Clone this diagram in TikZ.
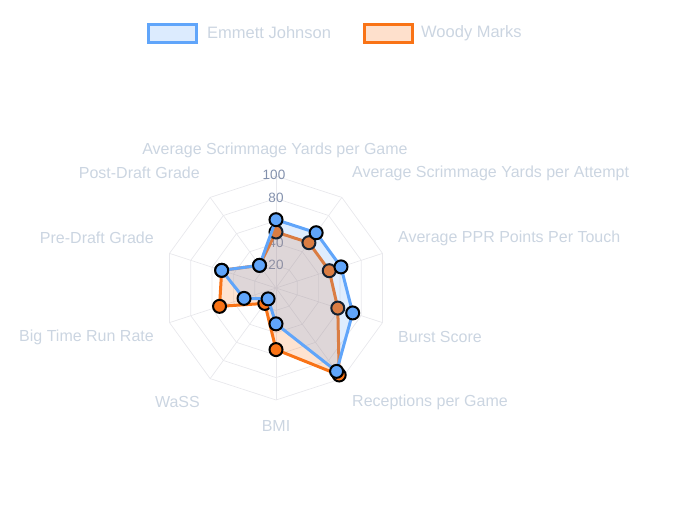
\documentclass[tikz,border=0pt]{standalone}
\usepackage{fontspec}
\setmainfont{Liberation Sans}
\usetikzlibrary{calc}
\begin{document}
\begin{tikzpicture}[x=1pt,y=-1pt,
  lab/.style={text=labc,font=\fontsize{16}{17}\selectfont,inner sep=0},
  leg/.style={text=labc,font=\fontsize{16.5}{17}\selectfont,inner sep=0},
  tick/.style={text=tickc,font=\fontsize{13.5}{14}\selectfont,inner sep=0},
  grid/.style={draw=gridc,line width=0.7pt},
  ptb/.style={circle,fill=bl,draw=black,line width=2pt,minimum size=13pt,inner sep=0},
  pto/.style={circle,fill=orc,draw=black,line width=2pt,minimum size=13pt,inner sep=0}]
\definecolor{labc}{HTML}{CBD5E1}
\definecolor{tickc}{HTML}{8290AC}
\definecolor{gridc}{HTML}{E8E8EC}
\definecolor{bl}{HTML}{60A5FA}
\definecolor{orc}{HTML}{F97316}
\useasboundingbox (0,0) rectangle (675,525);
\coordinate (c) at (276,288);
\def\R{112}
% grid
\foreach \k in {1,...,5}{
  \draw[grid] ($(c)+(-90:\k*\R/5)$) \foreach \i in {1,...,9}{ -- ($(c)+(-90+\i*36:\k*\R/5)$)} -- cycle;
}
\foreach \i in {0,...,9}{ \draw[grid] (c) -- ($(c)+(-90+\i*36:\R)$); }
% ticks
\node[tick] (t100) at (274,175) {100};
\node[tick] (t80) at (276,198) {80};
\node[tick] (t60) at (276,221) {60};
\node[tick] (t40) at (276,243) {40};
\node[tick] (t20) at (276,265) {20};
% data
\def\ov{{50,50,50,58,96,55,17,53,51,25}}
\def\bv{{61,61,61,72,92,32,12,30,51,25}}
\foreach \i in {0,...,9}{
  \pgfmathsetmacro\o{\ov[\i]*\R/100}
  \pgfmathsetmacro\b{\bv[\i]*\R/100}
  \coordinate (o\i) at ($(c)+(-90+\i*36:\o)$);
  \coordinate (b\i) at ($(c)+(-90+\i*36:\b)$);
}
\draw[orc,line width=3pt,fill=orc,fill opacity=0.2,line join=round] (o0)--(o1)--(o2)--(o3)--(o4)--(o5)--(o6)--(o7)--(o8)--(o9)--cycle;
\foreach \i in {0,...,9}{ \node[pto] (po\i) at (o\i) {}; }
\draw[bl,line width=3pt,fill=bl,fill opacity=0.2,line join=round] (b0)--(b1)--(b2)--(b3)--(b4)--(b5)--(b6)--(b7)--(b8)--(b9)--cycle;
\foreach \i in {0,...,9}{ \node[ptb] (pb\i) at (b\i) {}; }
% labels
\node[lab] (l0) at (275,150) {Average Scrimmage Yards per Game};
\node[lab,anchor=west] (l1) at (352,173) {Average Scrimmage Yards per Attempt};
\node[lab,anchor=west] (l2) at (398,238) {Average PPR Points Per Touch};
\node[lab,anchor=west] (l3) at (398,337) {Burst Score};
\node[lab,anchor=west] (l4) at (352,402) {Receptions per Game};
\node[lab] (l5) at (276,426) {BMI};
\node[lab,anchor=east] (l6) at (200,402) {WaSS};
\node[lab,anchor=east] (l7) at (154,337) {Big Time Run Rate};
\node[lab,anchor=east] (l8) at (154,238) {Pre-Draft Grade};
\node[lab,anchor=east] (l9) at (200,173) {Post-Draft Grade};
% legend
\draw[bl,line width=3pt,fill=bl!22] (148,24) rectangle (196,42);
\node[leg,anchor=west] (le1) at (207,33) {Emmett Johnson};
\draw[orc,line width=3pt,fill=orc!22] (364,24) rectangle (412,42);
\node[leg,anchor=west] (le2) at (421,33) {\vphantom{J}Woody Marks};
\end{tikzpicture}
\end{document}
